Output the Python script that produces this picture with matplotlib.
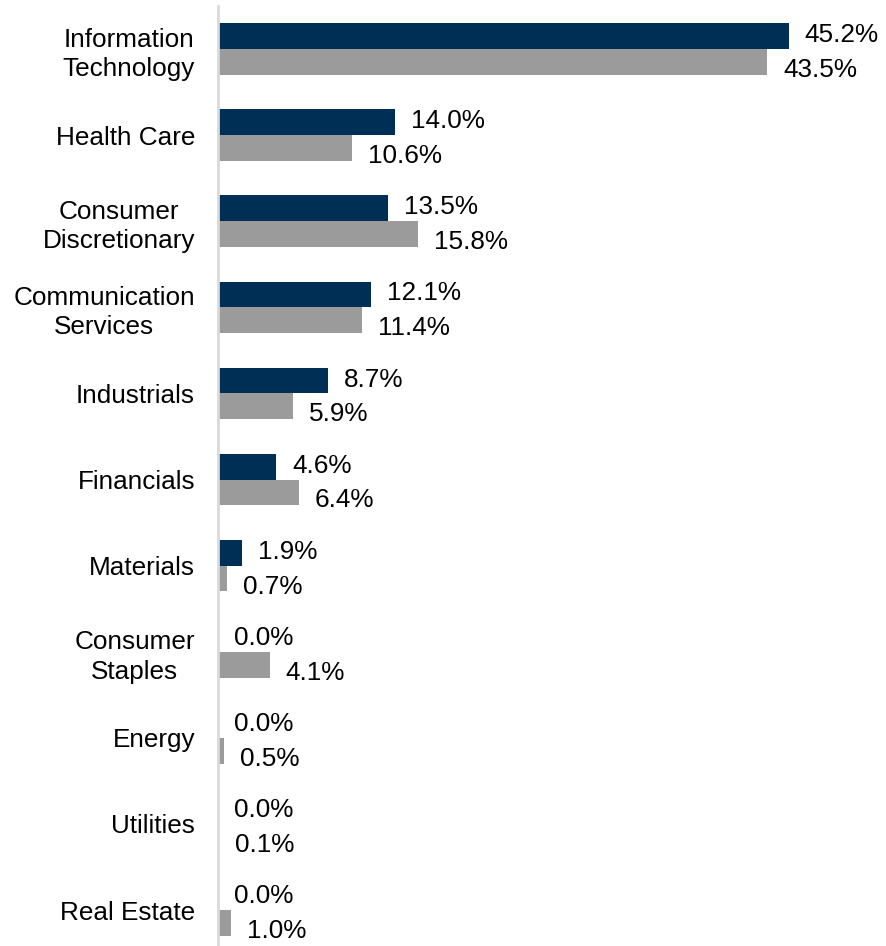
import matplotlib
matplotlib.use("Agg")
import matplotlib.pyplot as plt
import numpy as np

plt.rcParams['font.family'] = ['Liberation Sans', 'DejaVu Sans']

sectors = [
    "Information\nTechnology",
    "Health Care",
    "Consumer\nDiscretionary",
    "Communication\nServices",
    "Industrials",
    "Financials",
    "Materials",
    "Consumer\nStaples",
    "Energy",
    "Utilities",
    "Real Estate",
]
fund = [45.2, 14.0, 13.5, 12.1, 8.7, 4.6, 1.9, 0.0, 0.0, 0.0, 0.0]
index = [43.5, 10.6, 15.8, 11.4, 5.9, 6.4, 0.7, 4.1, 0.5, 0.1, 1.0]

NAVY = "#002F56"
GRAY = "#9B9B9B"
FS = 18.8

fig = plt.figure(figsize=(8.86, 9.46), dpi=100)
ax = fig.add_axes([218 / 886, 0.0, 1 - 218 / 886, 1 - 6 / 946])

y = np.arange(len(sectors))
h = 0.30
ax.barh(y - h / 2, fund, height=h, color=NAVY)
ax.barh(y + h / 2, index, height=h, color=GRAY)

ax.set_xlim(0, 52.9)
ax.set_ylim(10.418, -0.5)

# value labels to the right of each bar
px = 52.9 / 668.0  # data units per pixel horizontally
pyu = 1 / 86.1     # data units per pixel vertically
for yi, v in zip(y, fund):
    ax.text(v + 16 * px, yi - h / 2 - 1 * pyu, f"{v:.1f}%", va="center", ha="left",
            fontsize=FS, color="black")
for yi, v in zip(y, index):
    ax.text(v + 16 * px, yi + h / 2 + 8 * pyu, f"{v:.1f}%", va="center", ha="left",
            fontsize=FS, color="black")

ax.set_yticks(y)
ax.set_yticklabels(sectors, fontsize=FS)
for lab in ax.get_yticklabels():
    lab.set_multialignment("center")
    lab.set_linespacing(1.28)
ax.tick_params(axis="y", length=0, pad=16.5)
ax.set_xticks([])

for s in ["top", "right", "bottom"]:
    ax.spines[s].set_visible(False)
ax.spines["left"].set_color("#D9D9D9")
ax.spines["left"].set_linewidth(2)

fig.savefig("out.png", dpi=100)
